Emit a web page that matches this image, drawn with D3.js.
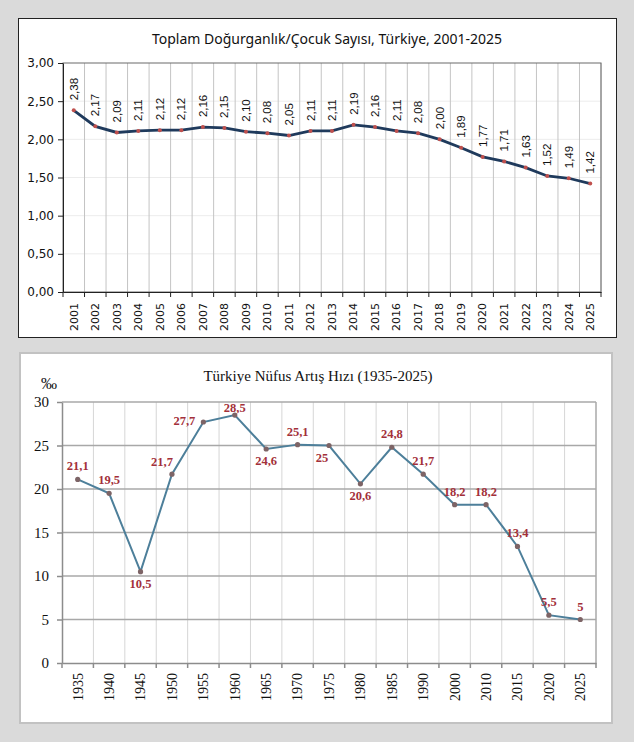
<!DOCTYPE html>
<html>
<head>
<meta charset="utf-8">
<script src="https://cdn.jsdelivr.net/npm/d3@7"></script>
<style>
  body { margin: 0; background: #dadada; }
</style>
</head>
<body>
<div id="chart"></div>
<script>
// chart 1 - fertility rate
var tfrYears = ["2001","2002","2003","2004","2005","2006","2007","2008","2009","2010","2011","2012","2013",
                "2014","2015","2016","2017","2018","2019","2020","2021","2022","2023","2024","2025"];
var tfrValues = [2.38,2.17,2.09,2.11,2.12,2.12,2.16,2.15,2.10,2.08,2.05,2.11,2.11,
                 2.19,2.16,2.11,2.08,2.00,1.89,1.77,1.71,1.63,1.52,1.49,1.42];
var tfrTicks = [0,0.5,1,1.5,2,2.5,3];

// chart 2 - population growth rate (per mille)
var growthYears = ["1935","1940","1945","1950","1955","1960","1965","1970","1975","1980","1985",
                   "1990","2000","2010","2015","2020","2025"];
var growthValues = [21.1,19.5,10.5,21.7,27.7,28.5,24.6,25.1,25,20.6,24.8,21.7,18.2,18.2,13.4,5.5,5];
var growthTicks = [0,5,10,15,20,25,30];
// where the value label sits next to its point
var growthLabelPlace = {"1945":"below","1950":"aboveLeft","1955":"left","1960":"tight",
                        "1965":"below","1975":"belowLeft","1980":"below"};

var W = 634, H = 742;
var svg = d3.select("#chart").append("svg")
    .attr("width", W).attr("height", H);

var fmt2 = function(d){ return d3.format(".2f")(d).replace(".", ","); };
var fmt1 = function(d){ return String(d).replace(".", ","); };

drawTfr();
drawGrowth();

function drawTfr(){
    var left = 63, right = 601, top = 63, bottom = 292;

    svg.append("rect")
        .attr("x", 18.5).attr("y", 18.5)
        .attr("width", 598).attr("height", 319)
        .style("fill", "#fff").style("stroke", "#222");

    svg.append("text")
        .attr("x", 327).attr("y", 44)
        .attr("text-anchor", "middle")
        .style("font-family", "'Noto Sans', sans-serif")
        .style("font-size", "14px")
        .style("fill", "#111")
        .text("Toplam Doğurganlık/Çocuk Sayısı, Türkiye, 2001-2025");

    var x = d3.scaleBand().domain(tfrYears).range([left, right]);
    var y = d3.scaleLinear().domain([0, 3]).range([bottom, top]);

    var g = svg.append("g");

    // faint horizontal grid
    g.selectAll(".hgrid").data(tfrTicks.slice(1, -1)).enter().append("line")
        .attr("x1", left).attr("x2", right)
        .attr("y1", function(d){ return y(d); }).attr("y2", function(d){ return y(d); })
        .style("stroke", "#ececec");

    // vertical grid at category boundaries
    var bounds = tfrYears.map(function(d){ return x(d); }).concat([right]);
    g.selectAll(".vgrid").data(bounds.slice(1)).enter().append("line")
        .attr("x1", function(d){ return d; }).attr("x2", function(d){ return d; })
        .attr("y1", top).attr("y2", bottom)
        .style("stroke", "#c4c4c4");

    g.append("rect")
        .attr("x", left).attr("y", top)
        .attr("width", right - left).attr("height", bottom - top)
        .style("fill", "none").style("stroke", "#6a6a6a");

    // y axis
    var yAxis = d3.axisLeft(y).tickValues(tfrTicks).tickFormat(fmt2)
        .tickSize(5).tickSizeOuter(0).tickPadding(4);
    var ya = g.append("g")
        .attr("transform", "translate(" + left + ",0)")
        .call(yAxis);
    ya.selectAll("text")
        .style("font-family", "'DejaVu Sans', sans-serif")
        .style("font-size", "12px").style("fill", "#111");
    ya.selectAll("line, path").style("stroke", "#222");

    // x axis: labels from the band axis, ticks at boundaries
    var xAxis = d3.axisBottom(x).tickSize(0).tickSizeOuter(0);
    var xa = g.append("g")
        .attr("transform", "translate(0," + bottom + ")")
        .call(xAxis);
    xa.select(".domain").style("stroke", "#222");
    xa.selectAll("text")
        .attr("transform", "rotate(-90)")
        .attr("x", -11).attr("y", 0).attr("dy", "0.35em")
        .attr("text-anchor", "end")
        .style("font-family", "'DejaVu Sans', sans-serif")
        .style("font-size", "11px").style("fill", "#111");
    g.selectAll(".xtick").data(bounds).enter().append("line")
        .attr("x1", function(d){ return d; }).attr("x2", function(d){ return d; })
        .attr("y1", bottom).attr("y2", bottom + 5)
        .style("stroke", "#222");

    var line = d3.line()
        .x(function(d, i){ return x(tfrYears[i]) + x.bandwidth() / 2; })
        .y(function(d){ return y(d); });

    g.append("path")
        .datum(tfrValues)
        .attr("d", line)
        .style("fill", "none")
        .style("stroke", "#1f3a5c")
        .style("stroke-width", 2.8);

    g.selectAll(".dot").data(tfrValues).enter().append("circle")
        .attr("cx", function(d, i){ return x(tfrYears[i]) + x.bandwidth() / 2; })
        .attr("cy", function(d){ return y(d); })
        .attr("r", 2)
        .style("fill", "#c0504d");

    g.selectAll(".lbl").data(tfrValues).enter().append("text")
        .attr("transform", function(d, i){
            var cx = x(tfrYears[i]) + x.bandwidth() / 2;
            return "translate(" + cx + "," + (y(d) - 10) + ") rotate(-90)";
        })
        .attr("dy", "0.35em")
        .style("font-family", "'Liberation Sans', Arial, sans-serif")
        .style("font-size", "11.5px").style("fill", "#111")
        .text(fmt2);
}

function drawGrowth(){
    var left = 62, right = 596, top = 402, bottom = 663;
    var serif = "'Liberation Serif', 'Times New Roman', serif";

    svg.append("rect")
        .attr("x", 20).attr("y", 353)
        .attr("width", 592).attr("height", 370)
        .style("fill", "#fff").style("stroke", "#c2c2c2").style("stroke-width", 2);

    svg.append("text")
        .attr("x", 318).attr("y", 381)
        .attr("text-anchor", "middle")
        .style("font-family", serif)
        .style("font-size", "15px").style("fill", "#111")
        .text("Türkiye Nüfus Artış Hızı (1935-2025)");

    svg.append("text")
        .attr("x", 41).attr("y", 389)
        .style("font-family", serif)
        .style("font-size", "16px").style("fill", "#111")
        .text("‰");

    var x = d3.scaleBand().domain(growthYears).range([left, right]);
    var y = d3.scaleLinear().domain([0, 30]).range([bottom, top]);

    var g = svg.append("g");

    var bounds = growthYears.map(function(d){ return x(d); }).concat([right]);
    g.selectAll(".vgrid").data(bounds.slice(1)).enter().append("line")
        .attr("x1", function(d){ return d; }).attr("x2", function(d){ return d; })
        .attr("y1", top).attr("y2", bottom)
        .style("stroke", function(d){ return d === right ? "#a8a8a8" : "#d6d6d6"; })
        .style("stroke-width", function(d){ return d === right ? 1.5 : 1; });

    g.selectAll(".hgrid").data(growthTicks.slice(1)).enter().append("line")
        .attr("x1", left).attr("x2", right)
        .attr("y1", function(d){ return y(d); }).attr("y2", function(d){ return y(d); })
        .style("stroke", "#a8a8a8").style("stroke-width", 1.5);

    var yAxis = d3.axisLeft(y).tickValues(growthTicks)
        .tickSize(5).tickSizeOuter(0).tickPadding(8);
    var ya = g.append("g")
        .attr("transform", "translate(" + left + ",0)")
        .call(yAxis);
    ya.selectAll("text")
        .style("font-family", serif)
        .style("font-size", "15px").style("fill", "#111");
    ya.selectAll("line, path").style("stroke", "#8c8c8c").style("stroke-width", 1.5);

    var xAxis = d3.axisBottom(x).tickSize(0).tickSizeOuter(0);
    var xa = g.append("g")
        .attr("transform", "translate(0," + bottom + ")")
        .call(xAxis);
    xa.select(".domain").style("stroke", "#8c8c8c").style("stroke-width", 1.5);
    xa.selectAll("text")
        .attr("transform", "rotate(-90)")
        .attr("x", -10).attr("y", 0).attr("dy", "0.35em")
        .attr("text-anchor", "end")
        .style("font-family", serif)
        .style("font-size", "14px").style("fill", "#111");
    g.selectAll(".xtick").data(bounds).enter().append("line")
        .attr("x1", function(d){ return d; }).attr("x2", function(d){ return d; })
        .attr("y1", bottom).attr("y2", bottom + 5)
        .style("stroke", "#8c8c8c").style("stroke-width", 1.5);

    var cx = function(i){ return x(growthYears[i]) + x.bandwidth() / 2; };

    var line = d3.line()
        .x(function(d, i){ return cx(i); })
        .y(function(d){ return y(d); });

    g.append("path")
        .datum(growthValues)
        .attr("d", line)
        .style("fill", "none")
        .style("stroke", "#4d7f9a")
        .style("stroke-width", 2);

    g.selectAll(".dot").data(growthValues).enter().append("circle")
        .attr("cx", function(d, i){ return cx(i); })
        .attr("cy", function(d){ return y(d); })
        .attr("r", 2.6)
        .style("fill", "#7d6466");

    var offsets = {
        above:     { dx: 0,   dy: -9,  anchor: "middle" },
        below:     { dx: 0,   dy: 16,  anchor: "middle" },
        left:      { dx: -8,  dy: 3,   anchor: "end" },
        aboveLeft: { dx: -10, dy: -8,  anchor: "middle" },
        belowLeft: { dx: -7,  dy: 16,  anchor: "middle" },
        tight:     { dx: 0,   dy: -3,  anchor: "middle" }
    };

    g.selectAll(".lbl").data(growthValues).enter().append("text")
        .each(function(d, i){
            var o = offsets[growthLabelPlace[growthYears[i]] || "above"];
            d3.select(this)
                .attr("x", cx(i) + o.dx)
                .attr("y", y(d) + o.dy)
                .attr("text-anchor", o.anchor);
        })
        .style("font-family", serif)
        .style("font-size", "12.5px")
        .style("font-weight", "bold")
        .style("fill", "#a3303a")
        .text(fmt1);
}
</script>
</body>
</html>
